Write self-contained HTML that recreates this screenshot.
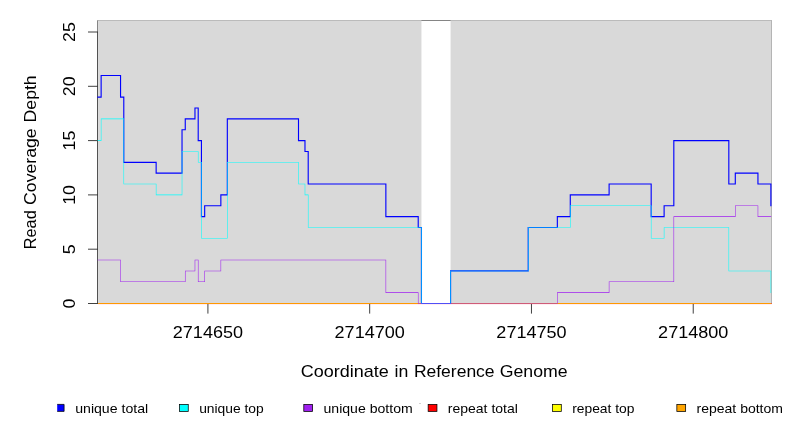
<!DOCTYPE html>
<html lang="en">
<head>
<meta charset="utf-8">
<title>Read Coverage Depth</title>
<style>
html,body{margin:0;padding:0;background:#ffffff;}
body{width:792px;height:432px;overflow:hidden;position:relative;font-family:"Liberation Sans",sans-serif;}
svg{will-change:transform;}
svg text{font-family:"Liberation Sans",sans-serif;}
</style>
</head>
<body>
<svg width="792" height="432" viewBox="0 0 792 432" style="position:absolute;left:0;top:0;display:block">
<rect x="0" y="0" width="792" height="432" fill="#ffffff"/>
<path d="M97.5 304V20.5H771.5V304" fill="none" stroke="#858585" stroke-width="1"/>
<g stroke="#000000" stroke-width="0.75" fill="none">
<rect x="97" y="31.62" width="1" height="272.25" fill="#525252" stroke="none"/>
<path d="M88 303.50H97.5"/>
<path d="M88 249.20H97.5"/>
<path d="M88 194.90H97.5"/>
<path d="M88 140.60H97.5"/>
<path d="M88 86.30H97.5"/>
<path d="M88 32.00H97.5"/>
<path d="M207.91 303.5H693.23"/>
<path d="M207.91 303.5V313.6"/>
<path d="M369.68 303.5V313.6"/>
<path d="M531.46 303.5V313.6"/>
<path d="M693.23 303.5V313.6"/>
</g>
<rect x="98.10" y="20.35" width="323.35" height="283.65" fill="#d9d9d9"/>
<rect x="450.57" y="20.35" width="320.99" height="283.65" fill="#d9d9d9"/>
<path d="M98.10 303.50H771.50" fill="none" stroke="#ff9900" stroke-width="1"/>
<rect x="97.9" y="304" width="673.6" height="1" fill="#ff0040" fill-opacity="0.07"/>
<path d="M97.340 96.598H101.700V97.723H97.340ZM100.575 74.877H101.700V97.723H100.575ZM100.575 74.877H121.113V76.002H100.575ZM119.988 74.877H121.113V97.723H119.988ZM119.988 96.598H124.349V97.723H119.988ZM123.224 96.598H124.349V162.882H123.224ZM123.224 161.757H156.704V162.882H123.224ZM155.579 161.757H156.704V173.743H155.579ZM155.579 172.618H182.587V173.743H155.579ZM181.462 129.178H182.587V173.743H181.462ZM181.462 129.178H185.823V130.303H181.462ZM184.698 118.317H185.823V130.303H184.698ZM184.698 118.317H195.529V119.442H184.698ZM194.404 107.458H195.529V119.442H194.404ZM194.404 107.458H198.765V108.583H194.404ZM197.640 107.458H198.765V141.163H197.640ZM197.640 140.038H202.000V141.163H197.640ZM200.875 140.038H202.000V217.183H200.875ZM200.875 216.058H205.236V217.183H200.875ZM204.111 205.197H205.236V217.183H204.111ZM204.111 205.197H221.413V206.322H204.111ZM220.288 194.338H221.413V206.322H220.288ZM220.288 194.338H227.885V195.463H220.288ZM226.760 118.317H227.885V195.463H226.760ZM226.760 118.317H299.065V119.442H226.760ZM297.940 118.317H299.065V141.163H297.940ZM297.940 140.038H305.537V141.163H297.940ZM304.412 140.038H305.537V152.023H304.412ZM304.412 150.898H308.772V152.023H304.412ZM307.647 150.898H308.772V184.603H307.647ZM307.647 183.478H386.424V184.603H307.647ZM385.299 183.478H386.424V217.183H385.299ZM385.299 216.058H418.779V217.183H385.299ZM417.654 216.058H418.779V228.043H417.654ZM417.654 226.918H422.014V228.043H417.654ZM420.889 226.918H422.014V304.062H420.889ZM420.889 302.938H451.134V304.062H420.889ZM450.009 270.358H451.134V304.062H450.009ZM450.009 270.358H528.786V271.483H450.009ZM527.661 226.918H528.786V271.483H527.661ZM527.661 226.918H557.905V228.043H527.661ZM556.780 216.058H557.905V228.043H556.780ZM556.780 216.058H570.847V217.183H556.780ZM569.722 194.338H570.847V217.183H569.722ZM569.722 194.338H609.673V195.463H569.722ZM608.548 183.478H609.673V195.463H608.548ZM608.548 183.478H651.735V184.603H608.548ZM650.610 183.478H651.735V217.183H650.610ZM650.610 216.058H664.677V217.183H650.610ZM663.552 205.197H664.677V217.183H663.552ZM663.552 205.197H674.384V206.322H663.552ZM673.259 140.038H674.384V206.322H673.259ZM673.259 140.038H729.387V141.163H673.259ZM728.262 140.038H729.387V184.603H728.262ZM728.262 183.478H735.858V184.603H728.262ZM734.733 172.618H735.858V184.603H734.733ZM734.733 172.618H758.507V173.743H734.733ZM757.382 172.618H758.507V184.603H757.382ZM757.382 183.478H771.448V184.603H757.382ZM770.323 183.478H771.448V206.322H770.323Z" fill="#0000ff"/>
<path d="M97.621 140.319H101.419V140.881H97.621ZM100.856 118.599H101.419V140.881H100.856ZM100.856 118.599H124.067V119.161H100.856ZM123.505 118.599H124.067V184.321H123.505ZM123.505 183.759H156.422V184.321H123.505ZM155.860 183.759H156.422V195.181H155.860ZM155.860 194.619H182.306V195.181H155.860ZM181.744 151.179H182.306V195.181H181.744ZM181.744 151.179H198.484V151.741H181.744ZM197.921 151.179H198.484V162.601H197.921ZM197.921 162.039H201.719V162.601H197.921ZM201.157 162.039H201.719V238.621H201.157ZM201.157 238.059H227.603V238.621H201.157ZM227.041 162.039H227.603V238.621H227.041ZM227.041 162.039H298.784V162.601H227.041ZM298.222 162.039H298.784V184.321H298.222ZM298.222 183.759H305.255V184.321H298.222ZM304.693 183.759H305.255V195.181H304.693ZM304.693 194.619H308.491V195.181H304.693ZM307.928 194.619H308.491V227.761H307.928ZM307.928 227.199H421.733V227.761H307.928ZM421.171 227.199H421.733V303.781H421.171ZM421.171 303.219H450.853V303.781H421.171ZM450.290 270.639H450.853V303.781H450.290ZM450.290 270.639H528.505V271.201H450.290ZM527.942 227.199H528.505V271.201H527.942ZM527.942 227.199H570.566V227.761H527.942ZM570.004 205.479H570.566V227.761H570.004ZM570.004 205.479H651.454V206.041H570.004ZM650.891 205.479H651.454V238.621H650.891ZM650.891 238.059H664.396V238.621H650.891ZM663.833 227.199H664.396V238.621H663.833ZM663.833 227.199H729.106V227.761H663.833ZM728.543 227.199H729.106V271.201H728.543ZM728.543 270.639H771.167V271.201H728.543ZM770.605 270.639H771.167V292.921H770.605Z" fill="#00ffff"/>
<path d="M97.621 259.779H120.832V260.341H97.621ZM120.269 259.779H120.832V282.061H120.269ZM120.269 281.499H185.542V282.061H120.269ZM184.979 270.639H185.542V282.061H184.979ZM184.979 270.639H195.248V271.201H184.979ZM194.686 259.779H195.248V271.201H194.686ZM194.686 259.779H198.484V260.341H194.686ZM197.921 259.779H198.484V282.061H197.921ZM197.921 281.499H204.955V282.061H197.921ZM204.392 270.639H204.955V282.061H204.392ZM204.392 270.639H221.132V271.201H204.392ZM220.570 259.779H221.132V271.201H220.570ZM220.570 259.779H386.143V260.341H220.570ZM385.580 259.779H386.143V292.921H385.580ZM385.580 292.359H418.498V292.921H385.580ZM417.935 292.359H418.498V303.781H417.935ZM417.935 303.219H557.624V303.781H417.935ZM557.062 292.359H557.624V303.781H557.062ZM557.062 292.359H609.392V292.921H557.062ZM608.830 281.499H609.392V292.921H608.830ZM608.830 281.499H674.102V282.061H608.830ZM673.540 216.339H674.102V282.061H673.540ZM673.540 216.339H735.577V216.901H673.540ZM735.014 205.479H735.577V216.901H735.014ZM735.014 205.479H758.225V206.041H735.014ZM757.663 205.479H758.225V216.901H757.663ZM757.663 216.339H771.167V216.901H757.663Z" fill="#a020f0"/>
<text x="207.91" y="338.00" font-family="Liberation Sans, sans-serif" font-size="17.0" text-anchor="middle" fill="#000000" textLength="70.20" lengthAdjust="spacingAndGlyphs">2714650</text>
<text x="369.68" y="338.00" font-family="Liberation Sans, sans-serif" font-size="17.0" text-anchor="middle" fill="#000000" textLength="70.20" lengthAdjust="spacingAndGlyphs">2714700</text>
<text x="531.46" y="338.00" font-family="Liberation Sans, sans-serif" font-size="17.0" text-anchor="middle" fill="#000000" textLength="70.20" lengthAdjust="spacingAndGlyphs">2714750</text>
<text x="693.23" y="338.00" font-family="Liberation Sans, sans-serif" font-size="17.0" text-anchor="middle" fill="#000000" textLength="70.20" lengthAdjust="spacingAndGlyphs">2714800</text>
<text x="75.00" y="303.50" font-family="Liberation Sans, sans-serif" font-size="17.0" text-anchor="middle" fill="#000000" textLength="9.92" lengthAdjust="spacingAndGlyphs" transform="rotate(-90 75.00 303.50)">0</text>
<text x="75.00" y="249.20" font-family="Liberation Sans, sans-serif" font-size="17.0" text-anchor="middle" fill="#000000" textLength="9.92" lengthAdjust="spacingAndGlyphs" transform="rotate(-90 75.00 249.20)">5</text>
<text x="75.00" y="194.90" font-family="Liberation Sans, sans-serif" font-size="17.0" text-anchor="middle" fill="#000000" textLength="19.84" lengthAdjust="spacingAndGlyphs" transform="rotate(-90 75.00 194.90)">10</text>
<text x="75.00" y="140.60" font-family="Liberation Sans, sans-serif" font-size="17.0" text-anchor="middle" fill="#000000" textLength="19.84" lengthAdjust="spacingAndGlyphs" transform="rotate(-90 75.00 140.60)">15</text>
<text x="75.00" y="86.30" font-family="Liberation Sans, sans-serif" font-size="17.0" text-anchor="middle" fill="#000000" textLength="19.84" lengthAdjust="spacingAndGlyphs" transform="rotate(-90 75.00 86.30)">20</text>
<text x="75.00" y="32.00" font-family="Liberation Sans, sans-serif" font-size="17.0" text-anchor="middle" fill="#000000" textLength="19.84" lengthAdjust="spacingAndGlyphs" transform="rotate(-90 75.00 32.00)">25</text>
<text x="300.76" y="376.50" font-family="Liberation Sans, sans-serif" font-size="17.0" text-anchor="start" fill="#000000" textLength="88.04" lengthAdjust="spacingAndGlyphs">Coordinate</text>
<text x="394.45" y="376.50" font-family="Liberation Sans, sans-serif" font-size="17.0" text-anchor="start" fill="#000000" textLength="13.80" lengthAdjust="spacingAndGlyphs">in</text>
<text x="413.90" y="376.50" font-family="Liberation Sans, sans-serif" font-size="17.0" text-anchor="start" fill="#000000" textLength="80.70" lengthAdjust="spacingAndGlyphs">Reference</text>
<text x="499.70" y="376.50" font-family="Liberation Sans, sans-serif" font-size="17.0" text-anchor="start" fill="#000000" textLength="67.90" lengthAdjust="spacingAndGlyphs">Genome</text>
<text x="36.00" y="249.20" font-family="Liberation Sans, sans-serif" font-size="17.0" text-anchor="start" fill="#000000" textLength="38.90" lengthAdjust="spacingAndGlyphs" transform="rotate(-90 36.00 249.20)">Read</text>
<text x="36.00" y="204.90" font-family="Liberation Sans, sans-serif" font-size="17.0" text-anchor="start" fill="#000000" textLength="76.60" lengthAdjust="spacingAndGlyphs" transform="rotate(-90 36.00 204.90)">Coverage</text>
<text x="36.00" y="122.40" font-family="Liberation Sans, sans-serif" font-size="17.0" text-anchor="start" fill="#000000" textLength="47.10" lengthAdjust="spacingAndGlyphs" transform="rotate(-90 36.00 122.40)">Depth</text>
<rect x="57.2" y="404.4" width="6.90" height="7" fill="#0000ff"/>
<path d="M57.2 404.4H64.10V411.4H57.2" fill="none" stroke="#000" stroke-width="0.75"/>
<text x="75.20" y="412.70" font-family="Liberation Sans, sans-serif" font-size="13.0" text-anchor="start" fill="#000000" textLength="73.00" lengthAdjust="spacingAndGlyphs">unique total</text>
<rect x="179.45" y="404.4" width="8.8" height="7" fill="#00ffff" stroke="#000" stroke-width="0.75"/>
<text x="199.15" y="412.70" font-family="Liberation Sans, sans-serif" font-size="13.0" text-anchor="start" fill="#000000" textLength="64.60" lengthAdjust="spacingAndGlyphs">unique top</text>
<rect x="303.80" y="404.4" width="8.8" height="7" fill="#a020f0" stroke="#000" stroke-width="0.75"/>
<text x="323.50" y="412.70" font-family="Liberation Sans, sans-serif" font-size="13.0" text-anchor="start" fill="#000000" textLength="89.20" lengthAdjust="spacingAndGlyphs">unique bottom</text>
<rect x="428.15" y="404.4" width="8.8" height="7" fill="#ff0000" stroke="#000" stroke-width="0.75"/>
<text x="447.85" y="412.70" font-family="Liberation Sans, sans-serif" font-size="13.0" text-anchor="start" fill="#000000" textLength="70.00" lengthAdjust="spacingAndGlyphs">repeat total</text>
<rect x="552.50" y="404.4" width="8.8" height="7" fill="#ffff00" stroke="#000" stroke-width="0.75"/>
<text x="572.20" y="412.70" font-family="Liberation Sans, sans-serif" font-size="13.0" text-anchor="start" fill="#000000" textLength="62.30" lengthAdjust="spacingAndGlyphs">repeat top</text>
<rect x="676.85" y="404.4" width="8.8" height="7" fill="#ffa500" stroke="#000" stroke-width="0.75"/>
<text x="696.55" y="412.70" font-family="Liberation Sans, sans-serif" font-size="13.0" text-anchor="start" fill="#000000" textLength="86.40" lengthAdjust="spacingAndGlyphs">repeat bottom</text>
<rect x="419" y="403" width="2" height="1" fill="#d2d2d2"/>
<rect x="771" y="303" width="1" height="1" fill="#e0604a"/>
</svg>
</body>
</html>
